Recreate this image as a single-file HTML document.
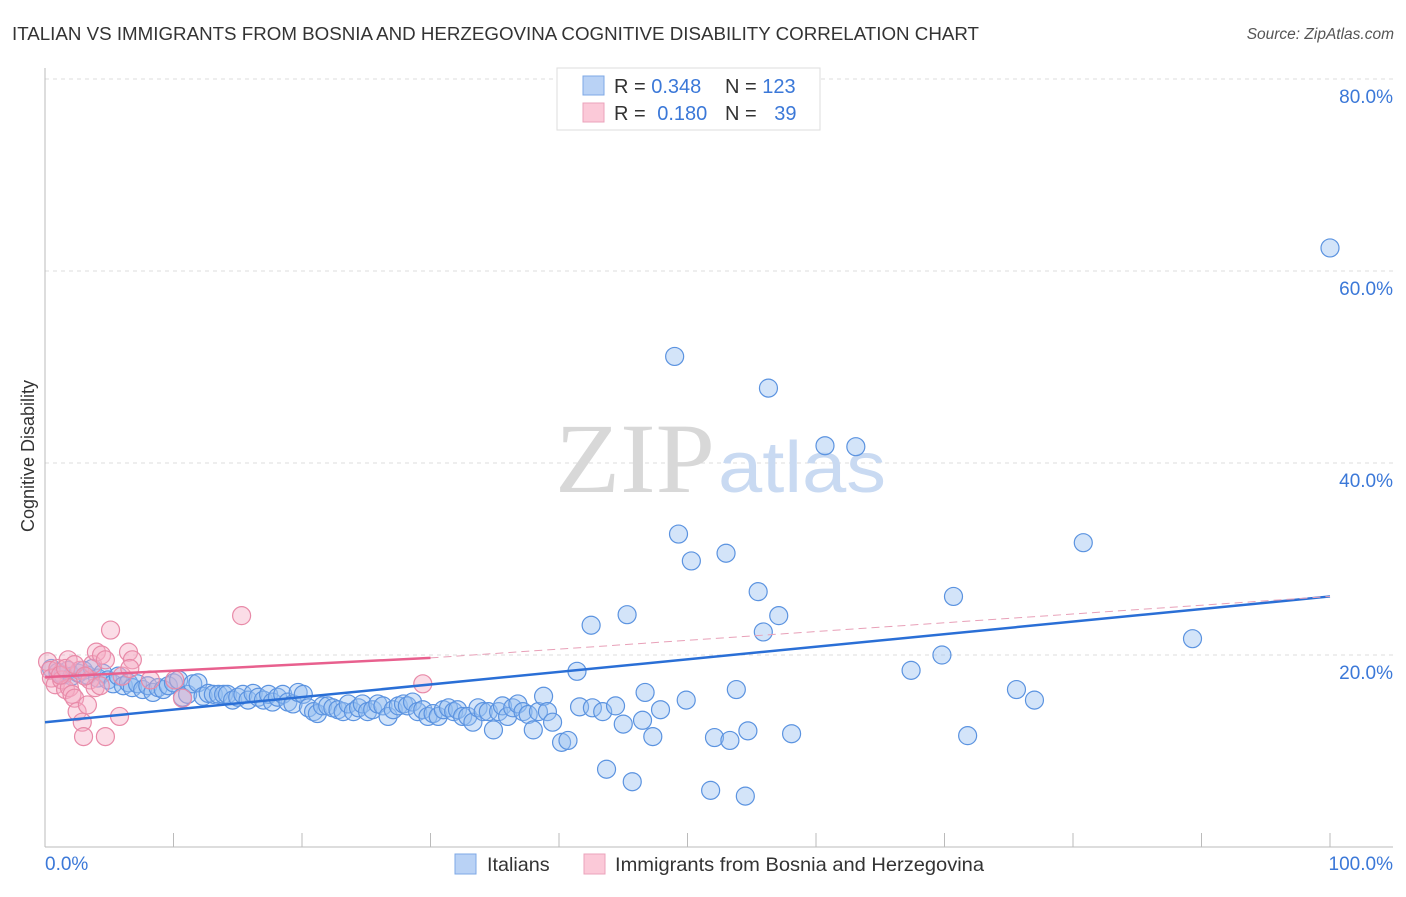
<!DOCTYPE html>
<html><head><meta charset="utf-8"><style>
body{margin:0;background:#fff;font-family:"Liberation Sans",sans-serif;}
svg text{font-family:"Liberation Sans",sans-serif;}
</style></head><body>
<svg id="chart" width="1406" height="892" viewBox="0 0 1406 892" xmlns="http://www.w3.org/2000/svg">
<text x="12" y="40" font-size="18.6" fill="#333" textLength="967" lengthAdjust="spacingAndGlyphs">ITALIAN VS IMMIGRANTS FROM BOSNIA AND HERZEGOVINA COGNITIVE DISABILITY CORRELATION CHART</text>
<text x="1394" y="39" font-size="15.5" fill="#555" text-anchor="end" font-style="italic">Source: ZipAtlas.com</text>
<g id="grid"></g>
<g>
<text x="555" y="492" font-size="100" fill="#d8d8d8" style="font-family:'Liberation Serif',serif" textLength="160" lengthAdjust="spacingAndGlyphs">ZIP</text>
<text x="718" y="492" font-size="72" fill="#c9daf2" textLength="168" lengthAdjust="spacingAndGlyphs">atlas</text>
</g>
<g id="axes"></g>
<g id="pts"></g>
<g id="trend"></g>
<text x="0" y="0" font-size="18" fill="#333" text-anchor="middle" transform="translate(34,456) rotate(-90)">Cognitive Disability</text>
<g>
<rect x="557" y="68" width="263" height="62" fill="#fff" stroke="#ddd"/>
<rect x="583" y="76" width="21" height="19" fill="#b9d2f5" stroke="#7ea8e6"/>
<rect x="583" y="103" width="21" height="19" fill="#fbc9d8" stroke="#eba3bb"/>
<text x="614" y="93" font-size="20" fill="#333">R = <tspan fill="#3b78d8">0.348</tspan></text>
<text x="725" y="93" font-size="20" fill="#333">N = <tspan fill="#3b78d8">123</tspan></text>
<text x="614" y="120" font-size="20" fill="#333">R = <tspan fill="#3b78d8" dx="6">0.180</tspan></text>
<text x="725" y="120" font-size="20" fill="#333">N = <tspan fill="#3b78d8" dx="12">39</tspan></text>
</g>
<g>
<rect x="455" y="854" width="21" height="20" fill="#b9d2f5" stroke="#7ea8e6"/>
<text x="487" y="871" font-size="19.8" fill="#333">Italians</text>
<rect x="584" y="854" width="21" height="20" fill="#fbc9d8" stroke="#eba3bb"/>
<text x="615" y="871" font-size="19.8" fill="#333" textLength="369" lengthAdjust="spacingAndGlyphs">Immigrants from Bosnia and Herzegovina</text>
</g>
</svg>
<script>
const blueX=[0.5,1.0,1.4,1.8,2.1,2.6,3.0,3.3,3.7,4.1,4.5,4.9,5.3,5.7,6.1,6.5,6.8,7.2,7.6,8.0,8.4,8.8,9.2,9.6,10.0,10.4,10.7,11.1,11.5,11.9,12.3,12.7,13.1,13.5,13.9,14.2,14.6,15.0,15.4,15.8,16.2,16.6,17.0,17.4,17.7,18.1,18.5,18.9,19.3,19.7,20.1,20.5,20.9,21.2,21.6,22.0,22.4,22.8,23.2,23.6,24.0,24.4,24.7,25.1,25.5,25.9,26.3,26.7,27.1,27.5,27.9,28.2,28.6,29.0,29.4,29.8,30.2,30.6,31.0,31.4,31.8,32.1,32.5,32.9,33.3,33.7,34.1,34.5,34.9,35.3,35.6,36.0,36.4,36.8,37.2,37.6,38.0,38.4,38.8,39.1,39.5,40.2,40.7,41.4,41.6,42.5,42.6,43.4,43.7,44.4,45.0,45.3,45.7,46.5,46.7,47.3,47.9,49.0,49.3,49.9,50.3,51.8,52.1,53.0,53.3,53.8,54.5,54.7,55.5,55.9,56.3,57.1,58.1,60.7,63.1,67.4,69.8,70.7,71.8,75.6,77.0,80.8,89.3,100];
const blueY=[18.6,18.2,17.9,18.4,17.8,18.1,18.4,17.9,18.6,17.6,18.1,17.4,17.0,17.8,16.8,17.1,16.6,17.0,16.4,16.8,16.1,16.6,16.4,16.8,17.1,17.4,15.6,15.9,17.0,17.1,15.7,16.0,15.9,15.9,15.9,15.9,15.3,15.6,15.9,15.3,16.0,15.6,15.3,15.9,15.1,15.6,15.9,15.1,14.9,16.1,15.9,14.5,14.1,13.9,14.7,14.7,14.5,14.3,14.1,14.9,14.1,14.5,14.9,14.1,14.3,14.9,14.7,13.6,14.3,14.7,14.9,14.7,15.1,14.1,14.3,13.6,13.9,13.6,14.3,14.5,14.1,14.3,13.6,13.6,13.0,14.5,14.1,14.1,12.2,14.1,14.7,13.6,14.5,14.9,14.1,13.8,12.2,14.1,15.7,14.1,13.0,10.9,11.1,18.3,14.6,23.1,14.5,14.1,8.1,14.7,12.8,24.2,6.8,13.2,16.1,11.5,14.3,51.1,32.6,15.3,29.8,5.9,11.4,30.6,11.1,16.4,5.3,12.1,26.6,22.4,47.8,24.1,11.8,41.8,41.7,18.4,20.0,26.1,11.6,16.4,15.3,31.7,21.7,62.4];
const pinkX=[0.2,0.4,0.5,0.8,1.0,1.3,1.6,1.8,1.9,2.1,2.3,2.5,2.7,2.9,3.0,3.3,3.5,3.7,3.9,4.0,4.3,4.4,4.7,5.1,5.8,6.0,6.5,6.8,8.2,10.1,10.7,15.3,29.4,1.2,1.6,2.3,3.1,6.6,4.7];
const pinkY=[19.3,18.4,17.6,16.9,18.6,17.4,16.4,19.5,16.6,15.9,15.5,14.1,18.4,13.0,11.5,14.8,17.4,19.0,16.6,20.3,16.8,20.0,19.5,22.6,13.6,17.8,20.3,19.5,17.4,17.4,15.5,24.1,17.0,17.9,18.6,19.0,17.8,18.6,11.5];
const blueTrend=[13.0,26.1];   // y at x=0 and x=100
const pinkTrend=[17.7,19.7,30,26.1]; // y at 0, y at 30 (solid end), dashed to 100
const yTicks=[20,40,60,80];
const xTicks=[0,10,20,30,40,50,60,70,80,90,100];
const NS="http://www.w3.org/2000/svg";
const X0=45,X1=1330,Y0=847,PPY=9.6;
function sx(v){return X0+(X1-X0)*v/100;}
function sy(v){return Y0-v*PPY;}
function mk(tag,attrs,parent){const e=document.createElementNS(NS,tag);for(const k in attrs)e.setAttribute(k,attrs[k]);parent.appendChild(e);return e;}
const grid=document.getElementById('grid'),axes=document.getElementById('axes'),pts=document.getElementById('pts'),trend=document.getElementById('trend');
yTicks.forEach(t=>{
  const l=mk('line',{x1:X0,x2:1393,y1:sy(t),y2:sy(t),stroke:'#dcdcdc','stroke-dasharray':'4,4'},grid);
  
  
  const tx=mk('text',{x:1393,y:sy(t)+24,'font-size':19,fill:'#3b78d8','text-anchor':'end'},axes);
  tx.textContent=t.toFixed(1)+'%';
  
  
});
let a=mk('line',{x1:X0,x2:X0,y1:68,y2:Y0,stroke:'#bbb'},axes);


a=mk('line',{x1:X0,x2:1393,y1:Y0,y2:Y0,stroke:'#bbb'},axes);


xTicks.forEach(t=>{
  if(t===0)return;
  const l=mk('line',{x1:sx(t),x2:sx(t),y1:Y0-14,y2:Y0,stroke:'#bbb'},axes);
  
  
});
let tl=mk('text',{x:45,y:870,'font-size':19,fill:'#3b78d8'},axes);tl.textContent='0.0%';


tl=mk('text',{x:1393,y:870,'font-size':19,fill:'#3b78d8','text-anchor':'end'},axes);tl.textContent='100.0%';


blueX.forEach((v,i)=>{
  const c=mk('circle',{cx:sx(v),cy:sy(blueY[i]),r:9,fill:'rgba(150,190,240,0.42)',stroke:'#5b93e0','stroke-width':1.2},pts);
  
  
});
pinkX.forEach((v,i)=>{
  const c=mk('circle',{cx:sx(v),cy:sy(pinkY[i]),r:9,fill:'rgba(245,170,195,0.4)',stroke:'#e88aa8','stroke-width':1.2},pts);
  
  
});
let t1=mk('line',{x1:sx(0),y1:sy(blueTrend[0]),x2:sx(100),y2:sy(blueTrend[1]),stroke:'#2a6fd6','stroke-width':2.5},trend);


let t2=mk('line',{x1:sx(0),y1:sy(pinkTrend[0]),x2:sx(pinkTrend[2]),y2:sy(pinkTrend[1]),stroke:'#e8608e','stroke-width':2.5},trend);


let t3=mk('line',{x1:sx(pinkTrend[2]),y1:sy(pinkTrend[1]),x2:sx(100),y2:sy(pinkTrend[3]),stroke:'#e8a0b8','stroke-width':1,'stroke-dasharray':'8,5'},trend);


</script>
</body></html>
